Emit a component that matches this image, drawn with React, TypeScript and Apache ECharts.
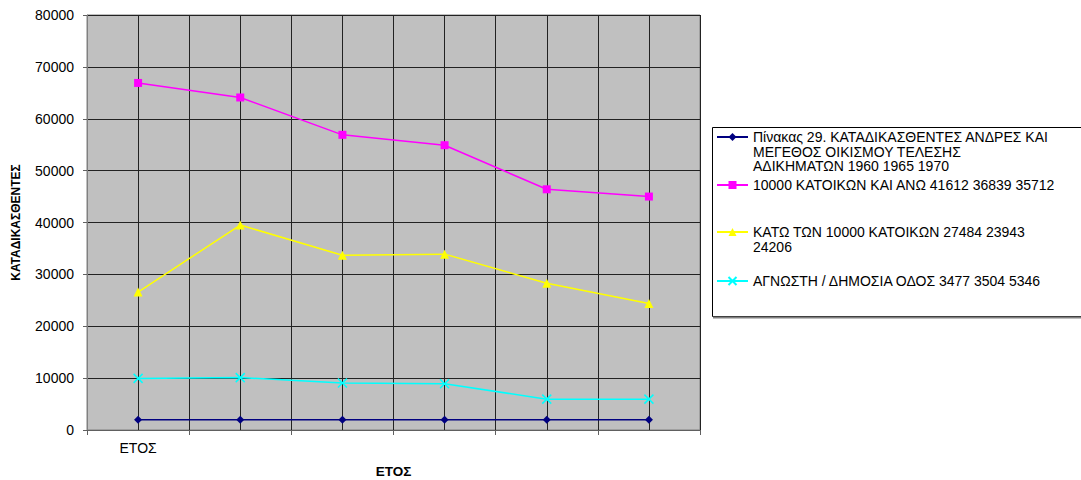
import React, { useEffect, useRef } from "react";
import * as echarts from "echarts";

const categories = ["ΕΤΟΣ", "", "", "", "", ""];

const seriesNames = [
  "Πίνακας 29. ΚΑΤΑΔΙΚΑΣΘΕΝΤΕΣ ΑΝΔΡΕΣ ΚΑΙ ΜΕΓΕΘΟΣ ΟΙΚΙΣΜΟΥ ΤΕΛΕΣΗΣ ΑΔΙΚΗΜΑΤΩΝ 1960 1965 1970",
  "10000 ΚΑΤΟΙΚΩΝ ΚΑΙ ΑΝΩ 41612 36839 35712",
  "ΚΑΤΩ ΤΩΝ 10000 ΚΑΤΟΙΚΩΝ 27484 23943 24206",
  "ΑΓΝΩΣΤΗ / ΔΗΜΟΣΙΑ ΟΔΟΣ 3477 3504 5346",
];

const legendLines = [
  ["Πίνακας 29. ΚΑΤΑΔΙΚΑΣΘΕΝΤΕΣ ΑΝΔΡΕΣ ΚΑΙ", "ΜΕΓΕΘΟΣ ΟΙΚΙΣΜΟΥ ΤΕΛΕΣΗΣ", "ΑΔΙΚΗΜΑΤΩΝ 1960 1965 1970"],
  ["10000 ΚΑΤΟΙΚΩΝ ΚΑΙ ΑΝΩ 41612 36839 35712"],
  ["ΚΑΤΩ ΤΩΝ 10000 ΚΑΤΟΙΚΩΝ 27484 23943", "24206"],
  ["ΑΓΝΩΣΤΗ / ΔΗΜΟΣΙΑ ΟΔΟΣ 3477 3504 5346"],
];

const pinakasValues = [2000, 2000, 2000, 2000, 2000, 2000];
const aboveValues = [66900, 64100, 56900, 54900, 46400, 45000];
const belowValues = [26600, 39500, 33700, 33900, 28300, 24400];
const unknownValues = [9950, 10100, 9050, 8900, 5950, 5950];

const seriesValues = [pinakasValues, aboveValues, belowValues, unknownValues];
const seriesColors = ["#000080", "#FF00FF", "#FFFF00", "#00FFFF"];
const seriesSymbols = ["diamond", "rect", "triangle", "path://M0,0L10,10M10,0L0,10"];
const seriesSymbolSizes = [8, 8, 9, 9];

const yTicks = { min: 0, max: 80000, interval: 10000 };

const FONT = "'Liberation Sans', Arial, sans-serif";
const LH = 14.5;
// symmetric vertical text padding per legend item (spacing only)
const legendPads = [0, 4.5, 13.5, 6.5];

export default function App() {
  const ref = useRef<HTMLDivElement>(null);

  useEffect(() => {
    if (!ref.current) return;
    const chart = echarts.init(ref.current, null, { renderer: "svg" });

    // prepend blank lines so the icon (centred) sits beside the first text line
    const wrapMap: Record<string, string> = {};
    seriesNames.forEach((n, i) => {
      const lines = legendLines[i];
      const blanks = new Array(lines.length - 1).fill(" ");
      wrapMap[n] = [...blanks, ...lines].join("\n");
    });

    const option: any = {
      animation: false,
      backgroundColor: "#ffffff",
      textStyle: { fontFamily: FONT },
      grid: {
        left: 87,
        right: 381,
        top: 15,
        bottom: 50,
        show: true,
        backgroundColor: "#C0C0C0",
        borderColor: "#808080",
        borderWidth: 1,
        containLabel: false,
        outerBoundsMode: "none",
      },
      graphic: [
        {
          type: "rect",
          z: 0,
          shape: { x: 712.5, y: 127.5, width: 372, height: 189 },
          style: { fill: "#ffffff", stroke: "#000000", lineWidth: 1 },
        },
        {
          type: "line",
          z: 1,
          shape: { x1: 713, y1: 317.5, x2: 1081, y2: 317.5 },
          style: { stroke: "#808080", lineWidth: 2 },
        },
      ],
      legend: {
        orient: "vertical",
        left: 716,
        top: 100.75,
        padding: 0,
        itemGap: 0,
        itemWidth: 31,
        itemHeight: 10,
        z: 5,
        formatter: (name: string) => wrapMap[name] || name,
        textStyle: {
          fontFamily: FONT,
          fontSize: 14,
          color: "#000000",
          lineHeight: LH,
          backgroundColor: "rgba(0,0,0,0)",
        },
        data: seriesNames.map((n, i) => ({
          name: n,
          textStyle: { padding: [legendPads[i], 0, legendPads[i], 0] },
        })),
      },
      xAxis: [
        {
          type: "category",
          data: categories,
          boundaryGap: true,
          name: "ΕΤΟΣ",
          nameLocation: "middle",
          nameGap: 34,
          nameTextStyle: { fontFamily: FONT, fontSize: 13.5, fontWeight: "bold", color: "#000" },
          axisLine: { show: true, lineStyle: { color: "#606060", width: 1 } },
          axisTick: { show: true, length: 5, lineStyle: { color: "#606060" } },
          axisLabel: { fontFamily: FONT, fontSize: 14, color: "#000", margin: 11 },
          splitLine: { show: false },
        },
        {
          type: "value",
          min: 0,
          max: 12,
          interval: 1,
          position: "bottom",
          axisLine: { show: false },
          axisTick: { show: false },
          axisLabel: { show: false },
          splitLine: { show: true, lineStyle: { color: "#222222", width: 1 } },
        },
      ],
      yAxis: {
        type: "value",
        min: yTicks.min,
        max: yTicks.max,
        interval: yTicks.interval,
        name: "ΚΑΤΑΔΙΚΑΣΘΕΝΤΕΣ",
        nameLocation: "middle",
        nameRotate: 90,
        nameGap: 65,
        nameTextStyle: { fontFamily: FONT, fontSize: 12, fontWeight: "bold", color: "#000" },
        axisLine: { show: true, lineStyle: { color: "#808080", width: 1 } },
        axisTick: { show: true, length: 4, lineStyle: { color: "#606060" } },
        axisLabel: {
          fontFamily: FONT,
          fontSize: 14,
          color: "#000",
          margin: 13,
          formatter: (v: number) => String(v),
        },
        splitLine: { show: true, lineStyle: { color: "#222222", width: 1 } },
      },
      series: seriesNames.map((n, i) => ({
        name: n,
        type: "line",
        xAxisIndex: 0,
        data: seriesValues[i],
        symbol: seriesSymbols[i],
        symbolSize: seriesSymbolSizes[i],
        showAllSymbol: true,
        lineStyle: { color: seriesColors[i], width: 1.5 },
        itemStyle: {
          color: seriesColors[i],
          borderColor: seriesColors[i],
          borderWidth: i === 3 ? 1.5 : 0,
        },
        emphasis: { disabled: true },
        z: 3,
      })),
    };

    chart.setOption(option);
    return () => chart.dispose();
  }, []);

  return <div ref={ref} style={{ width: 1081, height: 480, position: "absolute", left: 0, top: 0 }} />;
}
